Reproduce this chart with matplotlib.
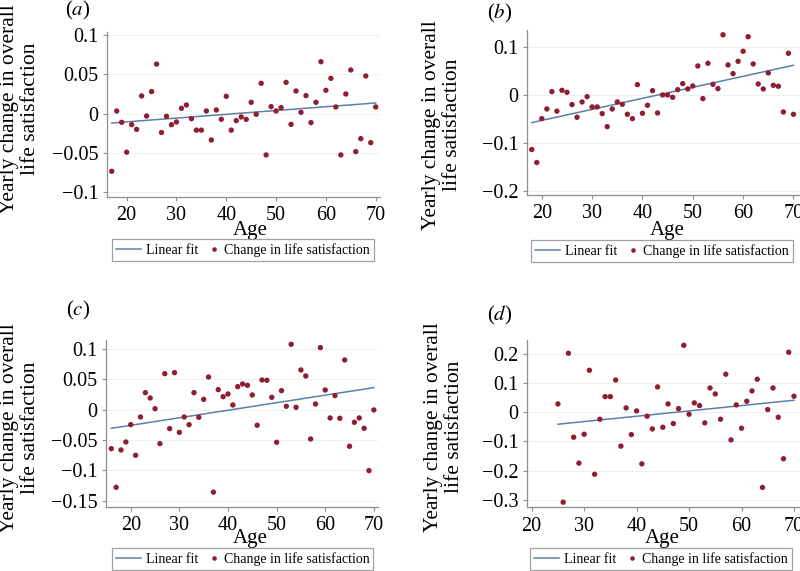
import numpy as np
import matplotlib
matplotlib.use("Agg")
import matplotlib.pyplot as plt
from matplotlib.lines import Line2D

plt.rcParams['font.family'] = ['Liberation Serif', 'DejaVu Serif']
plt.rcParams['mathtext.fontset'] = 'stix'

# ---------------- data ----------------
age_a = list(range(17, 71))
chg_a = [-0.0733, 0.0034, -0.011, -0.049, -0.014, -0.020, 0.0225, -0.003, 0.028, 0.063,
         -0.024, -0.0034, -0.014, -0.0106, 0.0068, 0.011, -0.0064, -0.021, -0.021, 0.0034,
         -0.0335, 0.0047, -0.0072, 0.022, -0.021, -0.0089, -0.0042, -0.0072, 0.0144, -0.0008,
         0.0386, -0.0525, 0.0089, 0.0034, 0.0076, 0.0398, -0.0136, 0.0288, 0.0017, 0.0229,
         -0.0114, 0.0144, 0.066, 0.0297, 0.0449, 0.0085, -0.0525, 0.025, 0.0555, -0.0483,
         -0.0318, 0.0479, -0.0369, 0.0085]
fit_age_a = [17, 70]
fit_a = [-0.0119, 0.0136]

age_b = list(range(18, 71))
chg_b = [-0.113, -0.140, -0.0486, -0.0285, 0.0076, -0.033, 0.0104, 0.0063, -0.0194, -0.0458,
         -0.0139, -0.0028, -0.0243, -0.0243, -0.0382, -0.0653, -0.0285, -0.0139, -0.0188, -0.0396,
         -0.0486, 0.0222, -0.0375, -0.0208, 0.0097, -0.0368, 0.0007, 0.0007, -0.0042, 0.0118,
         0.0243, 0.0132, 0.0194, 0.0611, -0.0069, 0.0667, 0.0229, 0.0139, 0.126, 0.0632,
         0.0451, 0.0708, 0.0917, 0.122, 0.0653, 0.0236, 0.0132, 0.0465, 0.0208, 0.0188,
         -0.0347, 0.0875, -0.0396]
fit_age_b = [18, 70]
fit_b = [-0.0569, 0.0625]

age_c = list(range(16, 71))
chg_c = [-0.0643, -0.128, -0.0665, -0.0533, -0.0247, -0.0753, -0.0121, 0.028, 0.0192, 0.0016,
         -0.056, 0.0593, -0.0313, 0.061, -0.0374, -0.0121, -0.0247, 0.028, -0.0126, 0.017,
         0.0538, -0.136, 0.033, 0.0214, 0.0258, 0.0077, 0.0379, 0.0423, 0.0401, 0.0242,
         -0.0258, 0.0489, 0.0484, 0.0203, -0.0538, 0.0313, 0.0055, 0.1077, 0.0038, 0.0654,
         0.0555, -0.0484, 0.0093, 0.1022, 0.0324, -0.0137, 0.0231, -0.0143, 0.0819, -0.0604,
         -0.0209, -0.0137, -0.0308, -0.1005, -0.0005]
fit_age_c = [16, 70]
fit_c = [-0.0308, 0.0363]

age_d = list(range(25, 71))
chg_d = [0.0285, -0.3075, 0.2016, -0.0854, -0.174, -0.0752, 0.1435, -0.212, -0.0239, 0.0535,
         0.0535, 0.110, -0.116, 0.0148, -0.0763, 0.0046, -0.1765, -0.0137, -0.057, 0.0866,
         -0.0513, 0.0285, -0.0387, 0.0125, 0.229, -0.0068, 0.0319, 0.0228, -0.0364, 0.0831,
         0.0626, -0.0239, 0.130, -0.0945, 0.0251, -0.0547, 0.0376, 0.0729, 0.1128, -0.257,
         0.0091, 0.0831, -0.0171, -0.159, 0.205, 0.0547]
fit_age_d = [25, 70]
fit_d = [-0.041, 0.041]

panel_labels = ['a', 'b', 'c', 'd']
yticks_a = [-0.1, -0.05, 0, 0.05, 0.1]
yticks_b = [-0.2, -0.1, 0, 0.1]
yticks_c = [-0.15, -0.1, -0.05, 0, 0.05, 0.1]
yticks_d = [-0.3, -0.2, -0.1, 0, 0.1, 0.2]
ytlabels_a = ['\u22120.1', '\u22120.05', '0', '0.05', '0.1']
ytlabels_b = ['\u22120.2', '\u22120.1', '0', '0.1']
ytlabels_c = ['\u22120.15', '\u22120.1', '\u22120.05', '0', '0.05', '0.1']
ytlabels_d = ['\u22120.3', '\u22120.2', '\u22120.1', '0', '0.1', '0.2']
xticks = [20, 30, 40, 50, 60, 70]
legend_labels = ['Linear fit', 'Change in life satisfaction']

# ---------------- style ----------------
W, H = 800, 571
DOT = '#8e1f33'
LINE = '#5c7fa8'
SPINE = '#8f8f8f'
GRID = '#edf1f2'

fig = plt.figure(figsize=(W / 100, H / 100), dpi=100)
fig.patch.set_facecolor('white')


def box(l, t, r, b):
    return [l / W, 1 - b / H, (r - l) / W, (b - t) / H]


class DotHandler:
    """Draw a single dot at the right end of the legend handle box."""
    def legend_artist(self, legend, orig_handle, fontsize, handlebox):
        x0, y0 = handlebox.xdescent, handlebox.ydescent
        w, h = handlebox.width, handlebox.height
        ln = Line2D([x0 + w - 3.5], [y0 + h / 2], marker='o', ls='none', color=DOT,
                    markersize=3.3, markeredgewidth=0,
                    transform=handlebox.get_transform())
        handlebox.add_artist(ln)
        return ln


panels = [
    dict(x=age_a, y=chg_a, fx=fit_age_a, fy=fit_a, rect=box(107, 32, 380, 196.7),
         xlim=(16.05, 70.86), ylim=(-0.1056, 0.1038),
         yt=yticks_a, ytl=ytlabels_a, lab=(78, 10), ylab=(20, 109), age=(250, 234.5),
         leg=(243, 239)),
    dict(x=age_b, y=chg_b, fx=fit_age_b, fy=fit_b, rect=box(526.7, 30, 800, 195),
         xlim=(17.0, 71.3), ylim=(-0.2077, 0.136),
         yt=yticks_b, ytl=ytlabels_b, lab=(500, 13), ylab=(442, 125), age=(667, 234.5),
         leg=(661.7, 240)),
    dict(x=age_c, y=chg_c, fx=fit_age_c, fy=fit_c, rect=box(105.7, 340, 377.5, 506.7),
         xlim=(14.85, 70.75), ylim=(-0.160, 0.1148),
         yt=yticks_c, ytl=ytlabels_c, lab=(78, 310), ylab=(20, 428), age=(250, 543.5),
         leg=(242.5, 548)),
    dict(x=age_d, y=chg_d, fx=fit_age_d, fy=fit_d, rect=box(526.7, 340, 800, 507.3),
         xlim=(19.05, 71.15), ylim=(-0.325, 0.247),
         yt=yticks_d, ytl=ytlabels_d, lab=(500, 315), ylab=(444, 427), age=(662, 543.5),
         leg=(661, 548)),
]

for p, name in zip(panels, panel_labels):
    ax = fig.add_axes(p['rect'])
    ax.plot(p['fx'], p['fy'], color=LINE, lw=1.1, zorder=2)
    ax.scatter(p['x'], p['y'], s=15, color=DOT, edgecolors='none', zorder=3)

    ax.set_xlim(*p['xlim'])
    ax.set_ylim(*p['ylim'])
    ax.set_yticks(p['yt'])
    ax.set_yticklabels(p['ytl'])
    ax.set_xticks(xticks)
    for s in ['top', 'right']:
        ax.spines[s].set_visible(False)
    for s in ['left', 'bottom']:
        ax.spines[s].set_color(SPINE)
        ax.spines[s].set_linewidth(0.9)
    ax.tick_params(axis='both', direction='out', length=3, width=0.8, color=SPINE,
                   labelsize=14.5)
    ax.tick_params(axis='y', pad=3)
    ax.tick_params(axis='x', pad=3.8)
    ax.yaxis.grid(True, color=GRID, lw=0.8)
    ax.set_axisbelow(True)

    fig.text(p['lab'][0] / W, 1 - p['lab'][1] / H, r'($\mathit{%s}$)' % name,
             fontsize=15, ha='center', va='center')
    fig.text(p['ylab'][0] / W, 1 - p['ylab'][1] / H,
             'Yearly change in overall\nlife satisfaction', rotation=90,
             fontsize=15.5, ha='center', va='center', linespacing=1.2)
    fig.text(p['age'][0] / W, 1 - p['age'][1] / H, 'Age', fontsize=15,
             ha='center', va='baseline')

    h1 = Line2D([], [], color=LINE, lw=1.1)
    h2 = Line2D([], [], color=DOT, marker='o', ls='none')
    leg = fig.legend([h1, h2], legend_labels,
                     loc='upper center',
                     bbox_to_anchor=(p['leg'][0] / W, 1 - p['leg'][1] / H),
                     ncol=2, fontsize=10, frameon=True, fancybox=False,
                     handlelength=1.8, handletextpad=0.35, columnspacing=-0.3,
                     borderpad=0.3, borderaxespad=0,
                     handler_map={h2: DotHandler()})
    leg.get_frame().set_edgecolor('#8a8a8a')
    leg.get_frame().set_linewidth(0.9)

fig.savefig('out.png', dpi=100, facecolor='white')
